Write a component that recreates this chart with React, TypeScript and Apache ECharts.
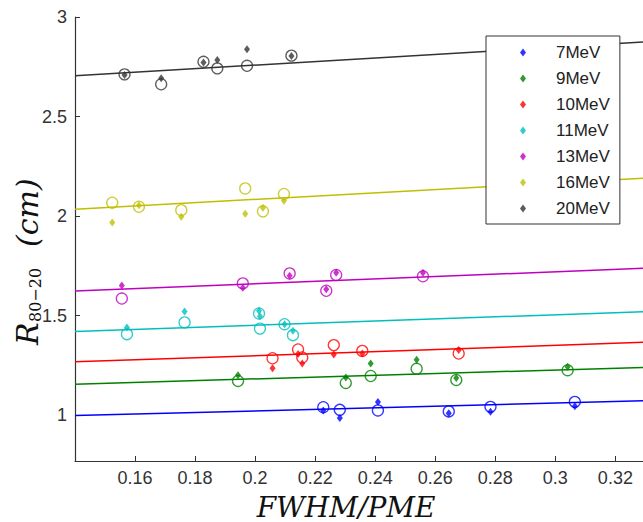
import React, { useEffect, useRef } from "react";
import * as echarts from "echarts";

// ---- data ----
const seriesNames = ["7MeV", "9MeV", "10MeV", "11MeV", "13MeV", "16MeV", "20MeV"];
const seriesColors = ["#0000ff", "#008000", "#ff0000", "#00bfbf", "#bf00bf", "#bfbf00", "#333333"];

const x7 = [0.2227, 0.2282, 0.2409, 0.2645, 0.2784, 0.3065];
const circ7 = [1.04, 1.027, 1.024, 1.019, 1.042, 1.067];
const diam7 = [1.024, 0.986, 1.066, 1.01, 1.017, 1.045];
const fit7 = [0.998, 1.072];

const x9 = [0.1943, 0.2302, 0.2385, 0.2538, 0.267, 0.3041];
const circ9 = [1.172, 1.162, 1.197, 1.233, 1.177, 1.226];
const diam9 = [1.201, 1.189, 1.26, 1.278, 1.187, 1.243];
const fit9 = [1.156, 1.24];

const x10 = [0.2058, 0.2143, 0.2157, 0.2262, 0.2357, 0.2678];
const circ10 = [1.286, 1.33, 1.29, 1.352, 1.323, 1.31];
const diam10 = [1.236, 1.307, 1.26, 1.305, 1.31, 1.327];
const fit10 = [1.268, 1.366];

const x11 = [0.1573, 0.1765, 0.2013, 0.2016, 0.2098, 0.2126];
const circ11 = [1.407, 1.466, 1.511, 1.435, 1.457, 1.402];
const diam11 = [1.441, 1.521, 1.525, 1.497, 1.457, 1.424];
const fit11 = [1.42, 1.52];

const x13 = [0.1556, 0.1959, 0.2115, 0.2237, 0.227, 0.2559];
const circ13 = [1.586, 1.662, 1.712, 1.625, 1.704, 1.698];
const diam13 = [1.652, 1.64, 1.7, 1.632, 1.715, 1.715];
const fit13 = [1.624, 1.738];

const x16 = [0.1524, 0.1613, 0.1754, 0.1967, 0.2026, 0.2096];
const circ16 = [2.067, 2.047, 2.03, 2.139, 2.024, 2.111];
const diam16 = [1.968, 2.055, 1.997, 2.012, 2.042, 2.077];
const fit16 = [2.035, 2.19];

const x20 = [0.1565, 0.1687, 0.1828, 0.1874, 0.1973, 0.2121];
const circ20 = [2.712, 2.662, 2.775, 2.742, 2.755, 2.806];
const diam20 = [2.709, 2.692, 2.772, 2.784, 2.838, 2.804];
const fit20 = [2.705, 2.874];

const fitX = [0.14, 0.3292];
const xTicks = [0.16, 0.18, 0.2, 0.22, 0.24, 0.26, 0.28, 0.3, 0.32];
const yTicks = [1, 1.5, 2, 2.5, 3];

const groups = [
  { x: x7, c: circ7, d: diam7, f: fit7 },
  { x: x9, c: circ9, d: diam9, f: fit9 },
  { x: x10, c: circ10, d: diam10, f: fit10 },
  { x: x11, c: circ11, d: diam11, f: fit11 },
  { x: x13, c: circ13, d: diam13, f: fit13 },
  { x: x16, c: circ16, d: diam16, f: fit16 },
  { x: x20, c: circ20, d: diam20, f: fit20 },
];

const tickFont = '"Liberation Sans Narrow", "Liberation Sans", Arial, sans-serif';
const mathFont = '"DejaVu Serif", "Liberation Serif", serif';

export default function App() {
  const ref = useRef<HTMLDivElement>(null);
  useEffect(() => {
    if (!ref.current) return;
    const chart = echarts.init(ref.current, undefined, { renderer: "svg" });
    const series: any[] = [];
    groups.forEach((g, i) => {
      const color = seriesColors[i];
      series.push({
        name: seriesNames[i] + " fit",
        type: "line",
        data: fitX.map((xv, k) => [xv, g.f[k]]),
        showSymbol: false,
        symbol: "none",
        lineStyle: { color, width: 1.5 },
        z: 1,
        silent: true,
      });
      series.push({
        name: seriesNames[i] + " circles",
        type: "scatter",
        data: g.x.map((xv, k) => [xv, g.c[k]]),
        symbol: "circle",
        symbolSize: 11,
        itemStyle: { color: "rgba(0,0,0,0)", borderColor: color, borderWidth: 1.3 },
        z: 2,
      });
      series.push({
        name: seriesNames[i],
        type: "scatter",
        data: g.x.map((xv, k) => [xv, g.d[k]]),
        symbol: "diamond",
        symbolSize: [6, 8],
        itemStyle: { color },
        z: 3,
      });
    });

    chart.setOption({
      animation: false,
      backgroundColor: "#ffffff",
      grid: { left: 75, right: 0, top: 17, bottom: 61 },
      xAxis: {
        type: "value",
        min: 0.14,
        max: 0.3292,
        interval: 0.02,
        axisLine: { show: true, lineStyle: { color: "#333", width: 1.2 } },
        axisTick: { show: true, inside: true, length: 5, customValues: xTicks, lineStyle: { color: "#333" } },
        axisLabel: {
          customValues: xTicks,
          margin: 8,
          color: "#333",
          fontSize: 18,
          fontFamily: tickFont,
        },
        splitLine: { show: false },
      },
      yAxis: {
        type: "value",
        min: 0.77,
        max: 3,
        axisLine: { show: true, lineStyle: { color: "#333", width: 1.2 } },
        axisTick: { show: true, inside: true, length: 5, customValues: yTicks, lineStyle: { color: "#333" } },
        axisLabel: {
          customValues: yTicks,
          margin: 8,
          color: "#333",
          fontSize: 18,
          fontFamily: tickFont,
        },
        splitLine: { show: false },
      },
      legend: {
        data: seriesNames,
        orient: "vertical",
        left: 486,
        top: 36,
        padding: [8, 10, 7, 34],
        itemWidth: 6,
        itemHeight: 8,
        itemGap: 9,
        borderColor: "#333",
        borderWidth: 1,
        backgroundColor: "#fff",
        textStyle: {
          color: "#222",
          fontSize: 17,
          lineHeight: 16,
          fontFamily: '"Liberation Sans", Arial, sans-serif',
          padding: [0, 0, 0, 25],
        },
      },
      graphic: [
        {
          type: "text",
          x: 346,
          y: 507,
          style: {
            text: "FWHM/PME",
            font: "italic 28px " + mathFont,
            fill: "#111",
            textAlign: "center",
            textVerticalAlign: "middle",
          },
        },
        {
          type: "group",
          x: 27,
          y: 262,
          rotation: Math.PI / 2,
          children: [
            {
              type: "text",
              x: -83,
              y: 0,
              style: {
                text: "R",
                font: "italic 30px " + mathFont,
                fill: "#111",
                textAlign: "left",
                textVerticalAlign: "middle",
              },
            },
            {
              type: "text",
              x: -60,
              y: 8,
              style: {
                text: "80−20",
                font: "16px " + mathFont,
                fill: "#111",
                textAlign: "left",
                textVerticalAlign: "middle",
              },
            },
            {
              type: "text",
              x: 15,
              y: 0,
              style: {
                text: "(cm)",
                font: "italic 30px " + mathFont,
                fill: "#111",
                textAlign: "left",
                textVerticalAlign: "middle",
              },
            },
          ],
        },
      ],
      series,
    });
    return () => chart.dispose();
  }, []);
  return (
    <div
      ref={ref}
      style={{ position: "fixed", left: 0, top: 0, width: 643, height: 522 }}
    />
  );
}
